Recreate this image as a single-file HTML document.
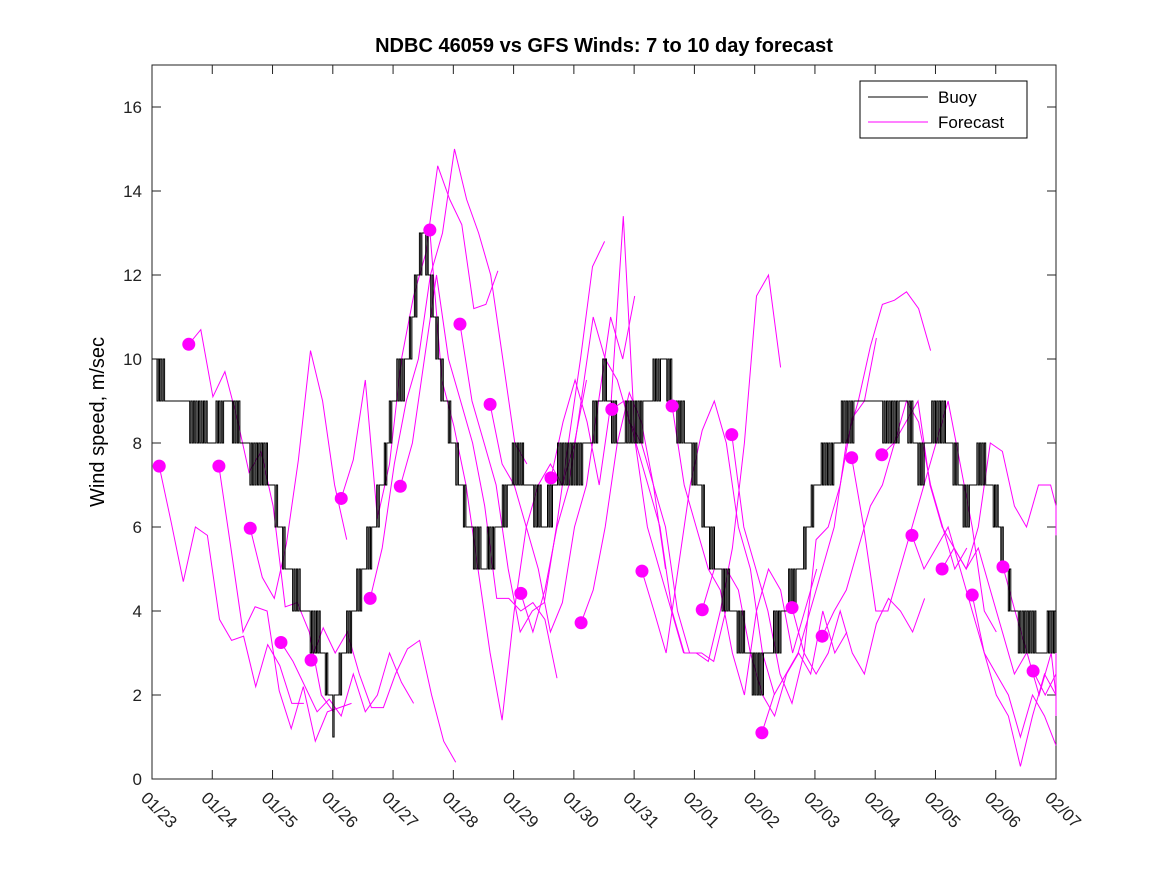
<!DOCTYPE html>
<html><head><meta charset="utf-8"><style>
body{margin:0;background:#fff;}
svg text{font-family:"Liberation Sans",sans-serif;}
</style></head><body>
<svg id="chart" width="1167" height="875">
<rect width="1167" height="875" fill="#fff"/>
<text x="604" y="52" text-anchor="middle" font-size="20" font-weight="bold">NDBC 46059 vs GFS Winds: 7 to 10 day forecast</text>
<text transform="translate(104,422) rotate(-90)" text-anchor="middle" font-size="20">Wind speed, m/sec</text>
<g id="axes"></g>
<g id="forecast"></g>
<g id="buoy"></g>
<g id="dots"></g>
<g>
<rect x="860" y="81" width="167" height="57" fill="#fff" stroke="#000" stroke-width="1"/>
<line x1="868" y1="97" x2="928" y2="97" stroke="#000"/>
<text x="938" y="103" font-size="17">Buoy</text>
<line x1="868" y1="122" x2="928" y2="122" stroke="#f0f"/>
<text x="938" y="128" font-size="17">Forecast</text>
</g>
</svg>
<script>
const xTickLabels=["01/23","01/24","01/25","01/26","01/27","01/28","01/29","01/30","01/31","02/01","02/02","02/03","02/04","02/05","02/06","02/07"];
const yTicks=[0,2,4,6,8,10,12,14,16];
const buoyDays=[0,0.25,0.5,0.75,1,1.25,1.5,1.75,2,2.25,2.5,2.75,3,3.25,3.5,3.75,4,4.25,4.5,4.75,5,5.25,5.5,5.75,6,6.25,6.5,6.75,7,7.25,7.5,7.75,8,8.25,8.5,8.75,9,9.25,9.5,9.75,10,10.25,10.5,10.75,11,11.25,11.5,11.75,12,12.25,12.5,12.75,13,13.25,13.5,13.75,14,14.25,14.5,14.75,15];
const buoyValues=[10,9,9,8.5,8,9,8,7.5,7,5,4,3.5,1.5,3.5,5,6.5,9,10,13,10,8,6,5,6,7.5,7,6,7.5,7.5,8,9.5,8,8.5,9,10,8.5,7.5,5.5,4.5,3.5,2.5,3,4,5,7,7.5,8.5,9,9,8.5,9,7.5,8.5,8,6.5,7.5,6.5,4,3.5,3,3.5];
const dotDays=[0.12,0.61,1.11,1.63,2.14,2.64,3.14,3.62,4.12,4.61,5.11,5.61,6.12,6.62,7.12,7.63,8.13,8.63,9.13,9.62,10.12,10.62,11.12,11.61,12.11,12.61,13.11,13.61,14.12,14.62];
const dotValues=[7.45,10.35,7.45,5.97,3.25,2.83,6.68,4.3,6.97,13.07,10.83,8.92,4.42,7.17,3.72,8.8,4.95,8.88,4.03,8.2,1.1,4.08,3.4,7.65,7.72,5.8,5.0,4.38,5.05,2.57];
const fc0=[7.45,6.1,4.7,6,5.8,3.8,3.3,3.4,2.2,3.2,2.7,1.8,1.8];
const fc1=[10.35,10.7,9.1,9.7,8.6,7.3,7.8,6.5,4.1,4.2,3.5,2,1.6];
const fc2=[7.45,5.5,3.5,4.1,4,2.1,1.2,2.2,0.9,1.6,1.7,1.8];
const fc3=[5.97,4.8,4.3,5.6,7.6,10.2,9,7,5.7];
const fc4=[3.25,2.8,2.2,1.6,1.9,1.5,2.5,1.6,2,3,2.3,1.8];
const fc5=[2.83,3.6,3,3.5,2.5,1.7,1.7,2.5,3.1,3.3,2,0.9,0.4];
const fc6=[6.68,7.6,9.5,6.2,7.5,10,11.5,12.5,14.6,13.8,13.2,11.2,11.3,12.1];
const fc7=[4.3,5.5,7.5,9,10,12,13,15,13.8,13,12,10,8,7.5];
const fc8=[6.97,8,10,12,10,9,8,6.5,4.3,4.3,4,4.2,3.8,2.4];
const fc9=[13.07,9.5,8.4,7,5,3,1.4,4,6,7,7.5,7,8,9.5];
const fc10=[10.83,9,8,7,5,3.5,4,4.2,6,8,10,12.2,12.8];
const fc11=[8.92,7.5,7,6,5,3.5,4.2,6,7,9,11,10,11.5];
const fc12=[4.42,3.5,4.5,6,7,9,11,10,9.5,8.5,8,7,5];
const fc13=[7.17,8.5,9.5,8.5,7,9,13.4,8,6,5,4,3];
const fc14=[3.72,4.5,6,8,9.2,8.5,7,6,4,3,3,2.8,4];
const fc15=[8.8,9,8,7,6,4,3,3,2.8,4,5.5,8,11.5,12,9.8];
const fc16=[4.95,4,3,5,7,8.3,9,8,6,5,3,2];
const fc17=[8.88,7,6,5,4.5,3,2,4,5,4.5,3,4,5];
const fc18=[4.03,5,5,4.5,3,2,1.5,2.5,3,2.5,4,3,3.5];
const fc19=[8.2,6,5,4,2.5,1.8,3,5.7,6,7,8.6,9,10.5];
const fc20=[1.1,2,2.5,3,4,5,6,8,9,10.3,11.3,11.4,11.6,11.2,10.2];
const fc21=[4.08,3,2.5,3,4,3,2.5,3.7,4.3,4,3.5,4.3];
const fc22=[3.4,4,4.5,5.5,6.5,7,8,9,8.5,7,6,5,5.5];
const fc23=[7.65,6,4,4,5,6,7,8,9,7.5,6,4,3.5];
const fc24=[7.72,8,8.5,9,7,6,5.5,5,5.5,4.5,3.5,2.5,3];
const fc25=[5.8,5,5.5,6,5,4,3,2.5,2,1,2,1.5,0.8];
const fc26=[5.0,5.5,5,6,8,7.8,6.5,6,7,7,6.5,6,5.8];
const fc27=[4.38,3,2,1.5,0.3,1.5,2.5,2,3.5,3.3];
const fc28=[5.05,4,3,2,3,2,1.5];
const fc29=[2.57,2,2.5,3.3];
const forecasts=[fc0,fc1,fc2,fc3,fc4,fc5,fc6,fc7,fc8,fc9,fc10,fc11,fc12,fc13,fc14,fc15,fc16,fc17,fc18,fc19,fc20,fc21,fc22,fc23,fc24,fc25,fc26,fc27,fc28,fc29];

const NS="http://www.w3.org/2000/svg";
const L=152,R=1056,T=65,B=779,XMAX=15,YMAX=17;
const xs=d=>L+(d/XMAX)*(R-L);
const ys=v=>B-(v/YMAX)*(B-T);
function mk(tag,parent,attrs){const e=document.createElementNS(NS,tag);for(const k in attrs)e.setAttribute(k,attrs[k]);parent.appendChild(e);return e;}
const axes=document.getElementById('axes');
const frame=mk('rect',axes,{x:L,y:T,width:R-L,height:B-T,fill:'none',stroke:'#222','stroke-width':1});


xTickLabels.forEach((lab,i)=>{
  const x=xs(i);
  const t1=mk('line',axes,{x1:x,y1:B,x2:x,y2:B-9,stroke:'#222'});
  
  
  const t2=mk('line',axes,{x1:x,y1:T,x2:x,y2:T+9,stroke:'#222'});
  
  
  const tx=mk('text',axes,{transform:`translate(${x-12},${B+20}) rotate(45)`,'font-size':17,fill:'#222'});
  tx.textContent=lab;
  
  
});
yTicks.forEach(v=>{
  const y=ys(v);
  const t1=mk('line',axes,{x1:L,y1:y,x2:L+9,y2:y,stroke:'#222'});
  
  
  const t2=mk('line',axes,{x1:R,y1:y,x2:R-9,y2:y,stroke:'#222'});
  
  
  const tx=mk('text',axes,{x:L-10,y:y+6,'text-anchor':'end','font-size':17,fill:'#222'});
  tx.textContent=v;
  
  
});
const fg=document.getElementById('forecast');
forecasts.forEach((arr,i)=>{
  const s=dotDays[i];
  const pts=arr.map((v,j)=>`${xs(Math.min(XMAX,s+j*0.2)).toFixed(1)},${ys(v).toFixed(1)}`).join(' ');
  const pl=mk('polyline',fg,{points:pts,fill:'none',stroke:'#f0f','stroke-width':1});
  
  
});
const bg=document.getElementById('buoy');
let d='';
const step=1/48;
let first=true;
for(let t=0;t<=XMAX+1e-9;t+=step){
  let k=Math.min(buoyDays.length-2,Math.floor(t/0.25));
  const f=(t-buoyDays[k])/(buoyDays[k+1]-buoyDays[k]);
  const v=buoyValues[k]+(buoyValues[k+1]-buoyValues[k])*f;
  const q=Math.round(v+((Math.round(t*48)%2)?0.3:-0.3));
  const x=xs(t),y=ys(q);
  if(first){d+=`M${x.toFixed(1)},${y.toFixed(1)}`;first=false;}
  else d+=`V${y.toFixed(1)}`;
  d+=`H${xs(Math.min(XMAX,t+step)).toFixed(1)}`;
}
const bp=mk('path',bg,{d:d,fill:'none',stroke:'#000','stroke-width':1});


const dg=document.getElementById('dots');
dotDays.forEach((dd,i)=>{
  const c=mk('circle',dg,{cx:xs(dd),cy:ys(dotValues[i]),r:6.5,fill:'#f0f'});
  
  
});
</script>
</body></html>
